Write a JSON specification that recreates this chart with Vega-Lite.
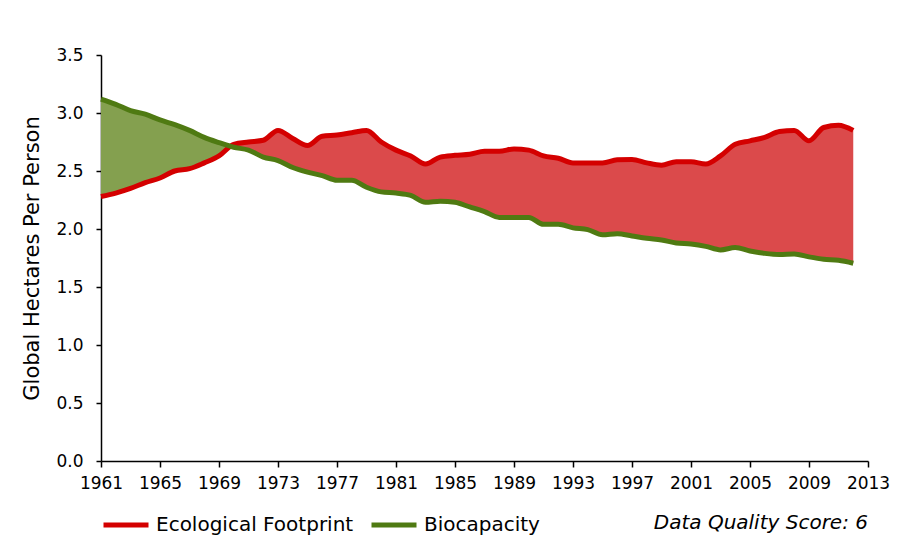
{
  "$schema": "https://vega.github.io/schema/vega-lite/v6.json",
  "width": 767,
  "height": 406,
  "autosize": {"type": "none"},
  "padding": {"left": 101, "top": 55, "right": 30, "bottom": 85},
  "background": "white",
  "config": {
    "view": {"stroke": null},
    "font": "DejaVu Sans",
    "axis": {"labelFont": "DejaVu Sans", "titleFont": "DejaVu Sans", "labelColor": "#000", "titleColor": "#000", "domainColor": "#000", "tickColor": "#000", "grid": false}
  },
  "title": {
    "text": "Data Quality Score: 6",
    "orient": "bottom",
    "anchor": "end",
    "frame": "group",
    "fontStyle": "italic",
    "fontWeight": "normal",
    "fontSize": 20,
    "font": "DejaVu Sans",
    "color": "#000",
    "offset": -22
  },
  "data": {
    "values": [
      {"year": 1961, "footprint": 2.28, "biocapacity": 3.12},
      {"year": 1962, "footprint": 2.31, "biocapacity": 3.075},
      {"year": 1963, "footprint": 2.35, "biocapacity": 3.02},
      {"year": 1964, "footprint": 2.40, "biocapacity": 2.99},
      {"year": 1965, "footprint": 2.44, "biocapacity": 2.94},
      {"year": 1966, "footprint": 2.50, "biocapacity": 2.90},
      {"year": 1967, "footprint": 2.52, "biocapacity": 2.85},
      {"year": 1968, "footprint": 2.57, "biocapacity": 2.79},
      {"year": 1969, "footprint": 2.63, "biocapacity": 2.745},
      {"year": 1969.8, "footprint": 2.712, "biocapacity": 2.712},
      {"year": 1970, "footprint": 2.73, "biocapacity": 2.705},
      {"year": 1971, "footprint": 2.75, "biocapacity": 2.68},
      {"year": 1972, "footprint": 2.765, "biocapacity": 2.62},
      {"year": 1973, "footprint": 2.85, "biocapacity": 2.59},
      {"year": 1974, "footprint": 2.78, "biocapacity": 2.53},
      {"year": 1975, "footprint": 2.72, "biocapacity": 2.49},
      {"year": 1976, "footprint": 2.80, "biocapacity": 2.46},
      {"year": 1977, "footprint": 2.81, "biocapacity": 2.42},
      {"year": 1978, "footprint": 2.83, "biocapacity": 2.42},
      {"year": 1979, "footprint": 2.85, "biocapacity": 2.36},
      {"year": 1980, "footprint": 2.75, "biocapacity": 2.32},
      {"year": 1981, "footprint": 2.68, "biocapacity": 2.31},
      {"year": 1982, "footprint": 2.63, "biocapacity": 2.29},
      {"year": 1983, "footprint": 2.56, "biocapacity": 2.23},
      {"year": 1984, "footprint": 2.62, "biocapacity": 2.24},
      {"year": 1985, "footprint": 2.635, "biocapacity": 2.23},
      {"year": 1986, "footprint": 2.645, "biocapacity": 2.19},
      {"year": 1987, "footprint": 2.67, "biocapacity": 2.15},
      {"year": 1988, "footprint": 2.67, "biocapacity": 2.10},
      {"year": 1989, "footprint": 2.69, "biocapacity": 2.10},
      {"year": 1990, "footprint": 2.68, "biocapacity": 2.10},
      {"year": 1991, "footprint": 2.63, "biocapacity": 2.04},
      {"year": 1992, "footprint": 2.61, "biocapacity": 2.04},
      {"year": 1993, "footprint": 2.57, "biocapacity": 2.01},
      {"year": 1994, "footprint": 2.57, "biocapacity": 1.995},
      {"year": 1995, "footprint": 2.57, "biocapacity": 1.95},
      {"year": 1996, "footprint": 2.597, "biocapacity": 1.96},
      {"year": 1997, "footprint": 2.60, "biocapacity": 1.94},
      {"year": 1998, "footprint": 2.57, "biocapacity": 1.92},
      {"year": 1999, "footprint": 2.55, "biocapacity": 1.905},
      {"year": 2000, "footprint": 2.58, "biocapacity": 1.88},
      {"year": 2001, "footprint": 2.58, "biocapacity": 1.87},
      {"year": 2002, "footprint": 2.56, "biocapacity": 1.85},
      {"year": 2003, "footprint": 2.63, "biocapacity": 1.82},
      {"year": 2004, "footprint": 2.73, "biocapacity": 1.84},
      {"year": 2005, "footprint": 2.76, "biocapacity": 1.81},
      {"year": 2006, "footprint": 2.79, "biocapacity": 1.79},
      {"year": 2007, "footprint": 2.84, "biocapacity": 1.78},
      {"year": 2008, "footprint": 2.85, "biocapacity": 1.785},
      {"year": 2009, "footprint": 2.76, "biocapacity": 1.76},
      {"year": 2010, "footprint": 2.875, "biocapacity": 1.74},
      {"year": 2011, "footprint": 2.895, "biocapacity": 1.73},
      {"year": 2012, "footprint": 2.85, "biocapacity": 1.705}
    ]
  },
  "encoding": {
    "x": {
      "field": "year",
      "type": "quantitative",
      "scale": {"domain": [1961, 2013], "nice": false, "zero": false},
      "axis": {
        "title": null,
        "values": [1961, 1965, 1969, 1973, 1977, 1981, 1985, 1989, 1993, 1997, 2001, 2005, 2009, 2013],
        "format": "d",
        "labelFontSize": 17,
        "labelPadding": 8,
        "tickSize": 6,
        "tickWidth": 1.5,
        "domainWidth": 1.5,
        "labelFlush": false,
        "labelOverlap": false
      }
    }
  },
  "layer": [
    {
      "transform": [{"filter": "datum.year <= 1969.8"}],
      "mark": {"type": "area", "color": "#84A04F", "interpolate": "monotone"},
      "encoding": {
        "y": {"field": "footprint", "type": "quantitative"},
        "y2": {"field": "biocapacity"}
      }
    },
    {
      "transform": [{"filter": "datum.year >= 1969.8"}],
      "mark": {"type": "area", "color": "#DB4A4B", "interpolate": "monotone"},
      "encoding": {
        "y": {"field": "footprint", "type": "quantitative"},
        "y2": {"field": "biocapacity"}
      }
    },
    {
      "transform": [{"filter": "datum.year != 1969.8"}],
      "mark": {"type": "line", "strokeWidth": 5, "interpolate": "monotone", "strokeJoin": "round", "strokeCap": "butt"},
      "encoding": {
        "y": {"field": "footprint", "type": "quantitative"},
        "color": {"datum": "Ecological Footprint"}
      }
    },
    {
      "transform": [{"filter": "datum.year != 1969.8"}],
      "mark": {"type": "line", "strokeWidth": 5, "interpolate": "monotone", "strokeJoin": "round", "strokeCap": "butt"},
      "encoding": {
        "y": {
          "field": "biocapacity",
          "type": "quantitative",
          "scale": {"domain": [0, 3.5], "nice": false},
          "axis": {
            "title": "Global Hectares Per Person",
            "titleFontSize": 21,
            "titleFontWeight": "normal",
            "titlePadding": 13,
            "values": [0, 0.5, 1, 1.5, 2, 2.5, 3, 3.5],
            "format": ".1f",
            "labelFontSize": 17,
            "labelPadding": 13,
            "tickSize": 5,
            "tickWidth": 1.5,
            "domainWidth": 1.5
          }
        },
        "color": {
          "datum": "Biocapacity",
          "scale": {"domain": ["Ecological Footprint", "Biocapacity"], "range": ["#D40000", "#4F7A12"]},
          "legend": {
            "title": null,
            "orient": "none",
            "legendX": 0,
            "legendY": 445,
            "direction": "horizontal",
            "symbolType": "stroke",
            "symbolStrokeWidth": 5,
            "symbolSize": 2025,
            "labelFontSize": 20,
            "labelFont": "DejaVu Sans",
            "labelColor": "#000",
            "labelLimit": 400,
            "labelOffset": 5,
            "columnPadding": 7
          }
        }
      }
    }
  ]
}
